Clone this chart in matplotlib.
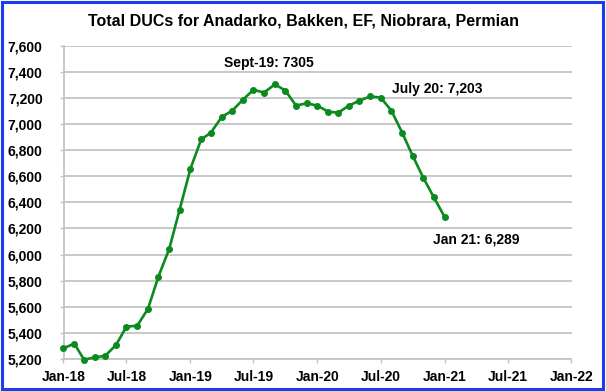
import matplotlib
matplotlib.use("Agg")
import matplotlib.pyplot as plt
import matplotlib.dates as mdates
import matplotlib.ticker as mticker
from matplotlib.patches import Rectangle
import pandas as pd

plt.rcParams["font.family"] = ["Liberation Sans", "DejaVu Sans"]

# monthly total DUC counts, Jan-18 .. Jan-21
months = pd.date_range("2018-01-01", "2021-01-01", freq="MS")
ducs = [
    5282, 5318, 5195, 5212, 5225, 5307, 5448, 5455, 5585, 5831, 6043, 6344,
    6657, 6882, 6934, 7054, 7102, 7186, 7262, 7241, 7305, 7256, 7141, 7159,
    7141, 7095, 7087, 7141, 7179, 7211, 7203, 7103, 6934, 6758, 6587, 6439,
    6289,
]

title = "Total DUCs for Anadarko, Bakken, EF, Niobrara, Permian"
notes = [
    # (index into months, text, offset in pixels, horizontal alignment)
    (20, "Sept-19: 7305", (-6, 21), "center"),
    (30, "July 20: 7,203", (11, 9), "left"),
    (36, "Jan 21: 6,289", (-12, -23), "left"),
]

green = "#0a8a1f"
grid_grey = "#c4c4c4"

fig = plt.figure(figsize=(6.06, 3.91), dpi=100)
ax = fig.add_axes([63.5 / 606, 32 / 391, 508 / 606, 313.3 / 391])

ax.plot(months, ducs, color=green, lw=1.9, marker="o", ms=4.0, clip_on=False, zorder=3)

ax.set_xlim(pd.Timestamp("2018-01-01"), pd.Timestamp("2022-01-01"))
ax.set_ylim(5200, 7600)
ax.xaxis.set_major_locator(mdates.MonthLocator(bymonth=[1, 7]))
ax.xaxis.set_major_formatter(mdates.DateFormatter("%b-%y"))
ax.yaxis.set_major_locator(mticker.MultipleLocator(200))
ax.yaxis.set_major_formatter(mticker.FuncFormatter(lambda v, _: f"{v:,.0f}"))

ax.grid(axis="y", color=grid_grey, lw=1.3)
ax.set_axisbelow(True)
ax.spines[["top", "right"]].set_visible(False)
for side in ("left", "bottom"):
    ax.spines[side].set_color(grid_grey)
    ax.spines[side].set_linewidth(1.3)
ax.tick_params(axis="both", colors=grid_grey, length=3, width=1.0, labelcolor="black")
ax.tick_params(axis="y", pad=12)
ax.tick_params(axis="x", pad=5)
for lab in ax.get_xticklabels() + ax.get_yticklabels():
    lab.set_fontweight("bold")
    lab.set_fontsize(10)

fig.suptitle(title, x=0.5, y=1 - 21.5 / 391, va="center", fontsize=11.5, fontweight="bold")

for idx, text, off, ha in notes:
    ax.annotate(text, xy=(months[idx], ducs[idx]), xytext=off, textcoords="offset pixels",
                ha=ha, va="center", fontsize=10, fontweight="bold")

fig.patches.append(Rectangle((1.5 / 606, 2 / 391), 601.5 / 606, 387.5 / 391,
                             transform=fig.transFigure, fill=False,
                             edgecolor="#1c3cf0", lw=2.2))

fig.savefig("out.png", dpi=100)
